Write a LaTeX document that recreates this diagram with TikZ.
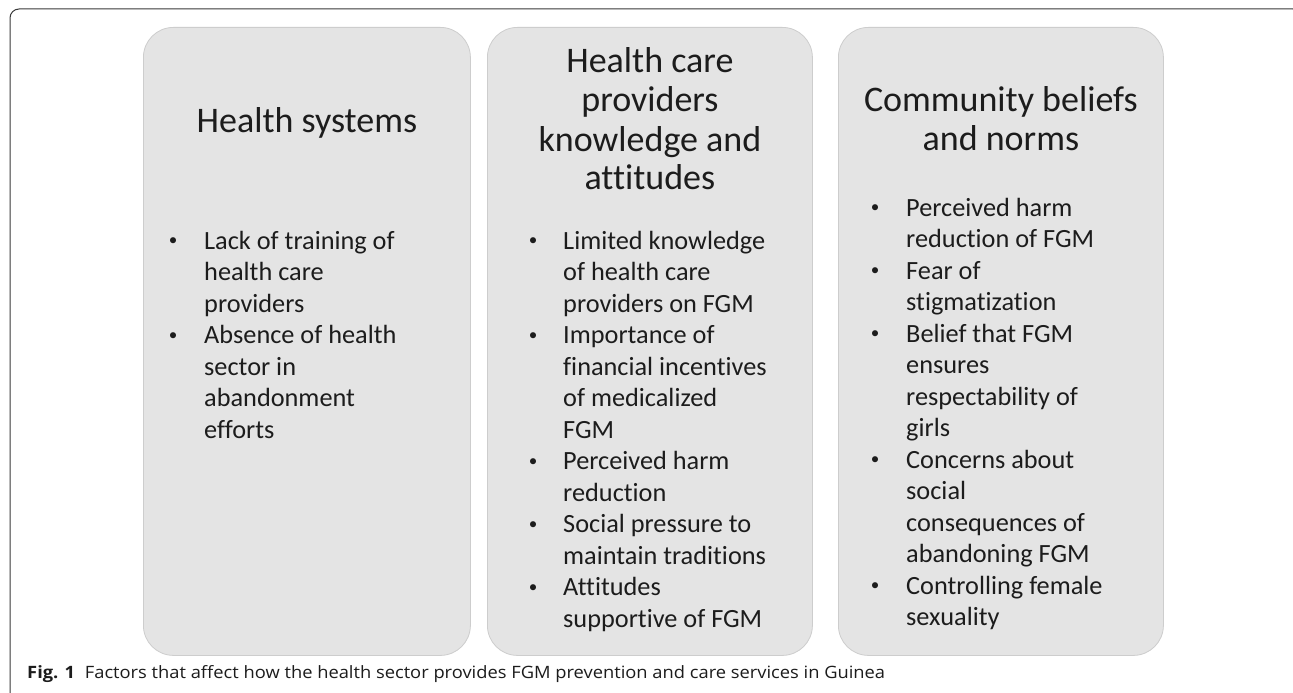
\documentclass[tikz,border=0pt]{standalone}
\usepackage{fontspec}
\setmainfont{Carlito}[RawFeature={-liga;-clig;-dlig}]
\newfontfamily\capfont{Open Sans}
\definecolor{panelfill}{HTML}{E4E4E4}
\definecolor{panelline}{HTML}{CDCDCD}
\definecolor{ink}{HTML}{1C1C1C}
\definecolor{framecol}{HTML}{3A3A3A}
\newcommand\bul{\makebox[0pt]{\raisebox{3.2pt}{\scalebox{0.65}{\textbullet}}}}
\begin{document}
\begin{tikzpicture}[x=1pt,y=-1pt,
  panel/.style={draw=panelline, line width=0.8pt, fill=panelfill, rounded corners=30pt,
    minimum width=327pt, minimum height=628pt, anchor=north west, inner sep=0pt},
  heading/.style={anchor=base, inner sep=0pt, text=ink, font=\fontsize{36}{39}\selectfont},
  bullets/.style={anchor=base west, inner sep=0pt, text=ink, font=\fontsize{26.3}{31.5}\selectfont},
  framestyle/.style={draw=framecol, line width=1pt, rounded corners=9pt}]
\useasboundingbox (0,0) rectangle (1293,693);
\clip (0,0) rectangle (1293,693);
\fill[white] (0,0) rectangle (1293,693);
% outer figure frame
\draw[framestyle] (10,710) -- (10,9) -- (1302,9) -- (1302,710);

% three panels
\node[panel] (hs) at (143,27) {};
\node[panel, minimum width=325pt] (hc) at (487,27) {};
\node[panel, minimum width=325pt] (cb) at (838,27) {};

% panel headings
\node[heading] (hsT) at (hs.center |- 0,132) {Health systems};
\node[heading] (hcT) at (hc.center |- 0,73) {\begin{tabular}[t]{@{}c@{}}Health care\\providers\\knowledge and\\attitudes\end{tabular}};
\node[heading] (cbT) at (cb.center |- 0,111) {\begin{tabular}[t]{@{}c@{}}Community beliefs\\and norms\end{tabular}};

% bullet lists
\node[bullets] (hsL) at (173,249) {\begin{tabular}[t]{@{}p{31pt}@{}l@{}}
\bul & Lack of training of\\
     & health care\\
     & providers\\
\bul & Absence of health\\
     & sector in\\
     & abandonment\\
     & efforts
\end{tabular}};
\node[bullets] (hcL) at (533,249) {\begin{tabular}[t]{@{}p{30pt}@{}l@{}}
\bul & Limited knowledge\\
     & of health care\\
     & providers on FGM\\
\bul & Importance of\\
     & financial incentives\\
     & of medicalized\\
     & FGM\\
\bul & Perceived harm\\
     & reduction\\
\bul & Social pressure to\\
     & maintain traditions\\
\bul & Attitudes\\
     & supportive of FGM
\end{tabular}};
\node[bullets] (cbL) at (875,216) {\begin{tabular}[t]{@{}p{31pt}@{}l@{}}
\bul & Perceived harm\\
     & reduction of FGM\\
\bul & Fear of\\
     & stigmatization\\
\bul & Belief that FGM\\
     & ensures\\
     & respectability of\\
     & girls\\
\bul & Concerns about\\
     & social\\
     & consequences of\\
     & abandoning FGM\\
\bul & Controlling female\\
     & sexuality
\end{tabular}};

% caption
\node[anchor=base west, inner sep=0pt, text=ink, font=\capfont\fontsize{17}{20}\selectfont] (cap) at (27,678)
  {\scalebox{1.077}[1]{\textbf{Fig. 1}\hspace{9pt}Factors that affect how the health sector provides FGM prevention and care services in Guinea}};
\end{tikzpicture}
\end{document}
